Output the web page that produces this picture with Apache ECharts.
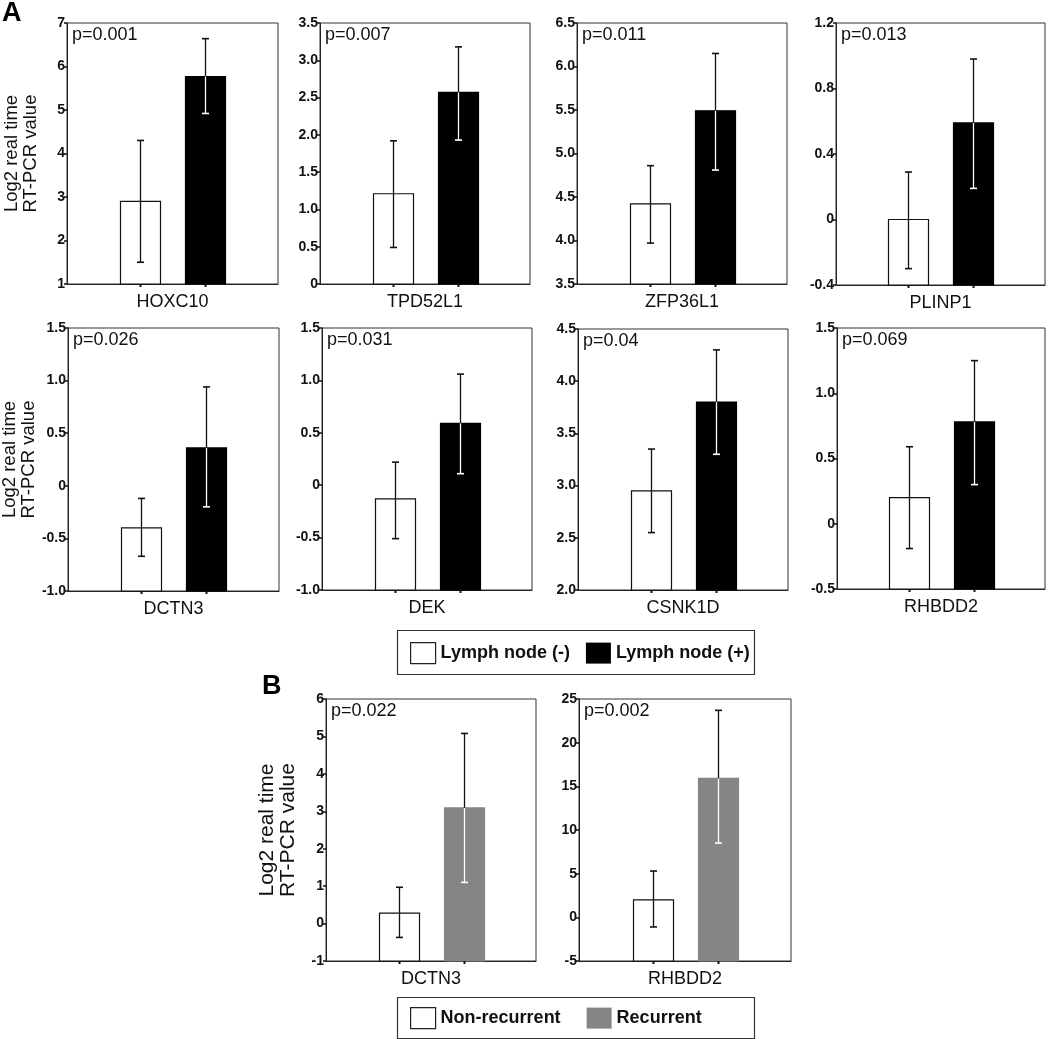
<!DOCTYPE html>
<html><head><meta charset="utf-8">
<script src="https://cdn.jsdelivr.net/npm/echarts@6/dist/echarts.min.js"></script>
<style>html,body{margin:0;padding:0;background:#fff}#chart{width:1050px;height:1039px}</style>
</head><body><div id="chart"></div>
<script>
// ---------- data ----------
const genes    = ['HOXC10','TPD52L1','ZFP36L1','PLINP1','DCTN3','DEK','CSNK1D','RHBDD2','DCTN3','RHBDD2'];
const pValues  = ['p=0.001','p=0.007','p=0.011','p=0.013','p=0.026','p=0.031','p=0.04','p=0.069','p=0.022','p=0.002'];
// first group (Lymph node (-) / Non-recurrent)
const negMean  = [2.90, 1.21, 4.42, 0.00, -0.40, -0.13, 2.95, 0.20, 0.28, 2.0];
const negLow   = [1.50, 0.49, 3.97, -0.30, -0.67, -0.51, 2.55, -0.19, -0.37, -1.1];
const negHigh  = [4.30, 1.92, 4.86, 0.29, -0.12, 0.22, 3.35, 0.59, 0.97, 5.3];
// second group (Lymph node (+) / Recurrent)
const posMean  = [5.77, 2.57, 5.49, 0.59, 0.36, 0.59, 3.80, 0.78, 3.09, 15.9];
const posLow   = [4.92, 1.93, 4.81, 0.19, -0.20, 0.11, 3.30, 0.30, 1.10, 8.5];
const posHigh  = [6.64, 3.18, 6.15, 0.98, 0.94, 1.06, 4.30, 1.25, 5.08, 23.7];
// axes
const yMin     = [1, 0, 3.5, -0.4, -1, -1, 2, -0.5, -1, -5];
const yMax     = [7, 3.5, 6.5, 1.2, 1.5, 1.5, 4.5, 1.5, 6, 25];
const yStep    = [1, 0.5, 0.5, 0.4, 0.5, 0.5, 0.5, 0.5, 1, 5];
const yDec     = [0, 1, 1, 1, 1, 1, 1, 1, 0, 0];
const groupA   = ['Lymph node (-)', 'Lymph node (+)'];
const groupB   = ['Non-recurrent', 'Recurrent'];
const yTitle   = 'Log2 real time\nRT-PCR value';

// ---------- layout / style ----------
const boxes = [
  [67, 23, 211, 261], [320, 23, 210, 261], [577, 23, 210, 261], [836, 23, 209, 262],
  [68, 328, 211, 263], [322, 328, 210, 262], [578, 329, 210, 261], [837, 328, 208, 261],
  [326, 699, 210, 262], [579, 699, 212, 262]
];
const BW = 40, GAP = 25, OFF = (BW + GAP) / 2;
const FONT = '"Liberation Sans", Arial, sans-serif';
const GRAY = '#858585';

const chart = echarts.init(document.getElementById('chart'));

const grids = [], xAxes = [], yAxes = [], series = [], titles = [];

titles.push({text: 'A', left: 2, top: 0, padding: 0,
  textStyle: {fontFamily: FONT, fontSize: 27, fontWeight: 'bold', color: '#000'}});
titles.push({text: 'B', left: 262, top: 673, padding: 0,
  textStyle: {fontFamily: FONT, fontSize: 27, fontWeight: 'bold', color: '#000'}});

function makeRender(idx, sign, filled, fill) {
  return function (params, api) {
    const mean = api.value(1), lo = api.value(2), hi = api.value(3);
    const c = api.coord([0, mean]);
    const x = Math.round(c[0] + sign * OFF);
    const xl = x + 0.5;
    const yTop = c[1];
    const yBase = api.coord([0, yMin[idx]])[1];
    const yLo = api.coord([0, lo])[1];
    const yHi = api.coord([0, hi])[1];
    const ch = [];
    ch.push({type: 'rect', shape: {x: x - BW / 2 + 0.5, y: yTop, width: BW, height: yBase - yTop},
      style: {fill: fill, stroke: filled ? fill : '#111', lineWidth: 1.2}});
    const dark = '#111';
    const inner = filled ? '#fff' : dark;
    ch.push({type: 'line', shape: {x1: xl, y1: yHi, x2: xl, y2: yTop}, style: {stroke: dark, lineWidth: 1.3}});
    ch.push({type: 'line', shape: {x1: xl, y1: yTop, x2: xl, y2: yLo}, style: {stroke: inner, lineWidth: 1.3}});
    ch.push({type: 'line', shape: {x1: xl - 3.5, y1: yHi, x2: xl + 3.5, y2: yHi}, style: {stroke: dark, lineWidth: 1.6}});
    ch.push({type: 'line', shape: {x1: xl - 3.5, y1: yLo, x2: xl + 3.5, y2: yLo}, style: {stroke: yLo < yTop ? dark : inner, lineWidth: 1.6}});
    ch.push({type: 'line', shape: {x1: xl, y1: yBase, x2: xl, y2: yBase + 3}, style: {stroke: dark, lineWidth: 2}});
    return {type: 'group', children: ch};
  };
}

for (let i = 0; i < genes.length; i++) {
  const b = boxes[i];
  const isB = i >= 8;
  grids.push({left: b[0], top: b[1], width: b[2], height: b[3], show: true,
    borderColor: '#333', borderWidth: 1, backgroundColor: 'transparent',
    containLabel: false, outerBoundsMode: 'none'});
  xAxes.push({type: 'category', gridIndex: i, data: [genes[i]],
    axisLine: {onZero: false, lineStyle: {color: '#222', width: 1}}, axisTick: {show: false},
    axisLabel: {fontFamily: FONT, fontSize: 18, color: '#111', margin: 9}});
  const dec = yDec[i];
  const ya = {type: 'value', gridIndex: i, min: yMin[i], max: yMax[i], interval: yStep[i],
    splitLine: {show: false},
    axisLine: {show: true, onZero: false, lineStyle: {color: '#222', width: 1}},
    axisTick: {show: true, length: 3, lineStyle: {color: '#111', width: 1.5}},
    axisLabel: {fontFamily: FONT, fontSize: 14, fontWeight: 'bold', color: '#111', margin: 2,
      formatter: v => Math.abs(v) < 1e-9 ? '0' : v.toFixed(dec)}};
  if (i === 0 || i === 4 || i === 8) {
    ya.name = yTitle;
    ya.nameLocation = 'middle';
    ya.nameRotate = 90;
    ya.nameGap = isB ? 27 : 27;
    ya.nameTextStyle = {fontFamily: FONT, fontSize: isB ? 21 : 18.5, color: '#111',
      lineHeight: isB ? 21 : 18.5};
  }
  yAxes.push(ya);
  titles.push({text: pValues[i], left: b[0] + 5, top: b[1] + 3, padding: 0,
    textStyle: {fontFamily: FONT, fontSize: 18, fontWeight: 'normal', color: '#111'}});
  const names = isB ? groupB : groupA;
  const posFill = isB ? GRAY : '#000';
  series.push({type: 'custom', name: names[0], xAxisIndex: i, yAxisIndex: i, clip: false,
    itemStyle: {color: '#fff'},
    renderItem: makeRender(i, -1, false, '#fff'),
    data: [[0, negMean[i], negLow[i], negHigh[i]]]});
  series.push({type: 'custom', name: names[1], xAxisIndex: i, yAxisIndex: i, clip: false,
    itemStyle: {color: posFill},
    renderItem: makeRender(i, 1, true, posFill),
    data: [[0, posMean[i], posLow[i], posHigh[i]]]});
}

const legendText = {fontFamily: FONT, fontSize: 18, fontWeight: 'bold', color: '#111'};
const option = {
  backgroundColor: '#fff',
  animation: false,
  title: titles,
  grid: grids,
  xAxis: xAxes,
  yAxis: yAxes,
  legend: [
    {left: 410, top: 642, padding: 0, itemWidth: 25, itemHeight: 21, itemGap: 16, selectedMode: false,
      textStyle: legendText,
      data: [{name: groupA[0], icon: 'rect', itemStyle: {color: '#fff', borderColor: '#222', borderWidth: 1.2}},
             {name: groupA[1], icon: 'rect', itemStyle: {color: '#000', borderColor: '#000', borderWidth: 0}}]},
    {left: 410, top: 1007, padding: 0, itemWidth: 25, itemHeight: 21, itemGap: 26, selectedMode: false,
      textStyle: legendText,
      data: [{name: groupB[0], icon: 'rect', itemStyle: {color: '#fff', borderColor: '#222', borderWidth: 1.2}},
             {name: groupB[1], icon: 'rect', itemStyle: {color: GRAY, borderColor: GRAY, borderWidth: 0}}]}
  ],
  graphic: [
    {type: 'rect', shape: {x: 397.5, y: 630.5, width: 357, height: 44}, style: {fill: 'none', stroke: '#333', lineWidth: 1.2}},
    {type: 'rect', shape: {x: 397.5, y: 997.5, width: 357, height: 41}, style: {fill: 'none', stroke: '#333', lineWidth: 1.2}}
  ],
  series: series
};
chart.setOption(option);
</script>
</body></html>
